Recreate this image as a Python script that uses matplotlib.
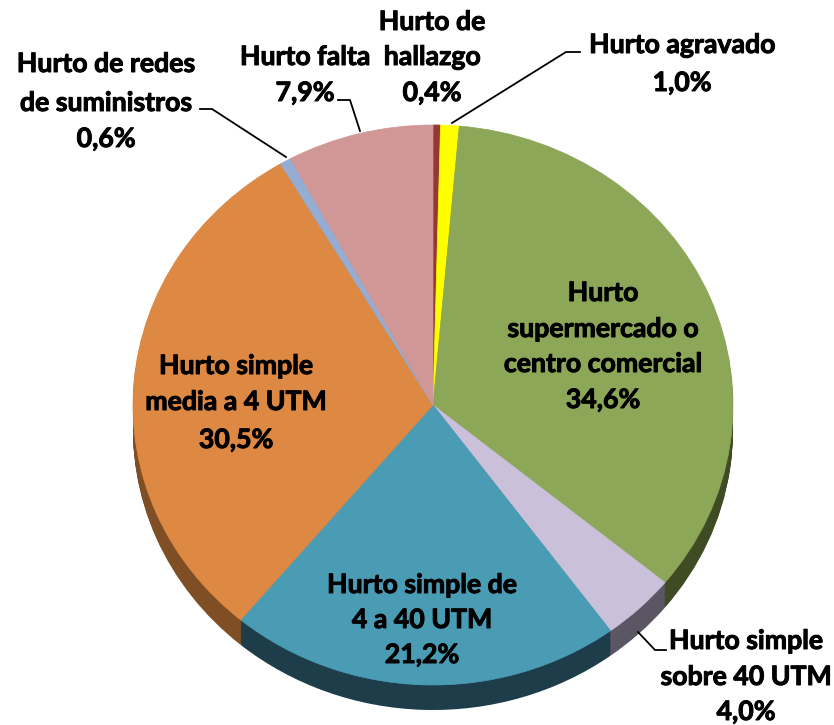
"""pie chart of hurto types, tilted look"""
import matplotlib
matplotlib.use('Agg')
import matplotlib.pyplot as plt
import matplotlib.patheffects as pe

W, H = 834, 725
CX, CY = 433, 405  # pie centre in pixels
RX, RY = 300, 280
DEPTH = 25

labels = ['Hurto de hallazgo', 'Hurto agravado', 'Hurto supermercado o centro comercial',
          'Hurto simple sobre 40 UTM', 'Hurto simple de 4 a 40 UTM',
          'Hurto simple media a 4 UTM', 'Hurto de redes de suministros', 'Hurto falta']
values = [0.4, 1.0, 34.6, 4.0, 21.2, 30.5, 0.6, 7.9]
colors = ['#953735', '#FFFF00', '#8CA757', '#CBC0DA', '#4A9CB5', '#DD8843', '#95ACD3', '#D19696']
wall_colors = ['#4F1D1C', '#7F7F00', '#3F4B23', '#5B5664', '#1C3D49', '#7F4E24', '#4C5A70', '#6F4F4F']

# text blocks: lines, centre x, y of each line (pixels)
text_blocks = [
    (['Hurto de', 'hallazgo', '0,4%'], 432, [22, 57, 93]),
    (['Hurto agravado', '1,0%'], 682, [45, 83]),
    (['Hurto falta', '7,9%'], 305, [57, 93]),
    (['Hurto de redes', 'de suministros', '0,6%'], 106, [64, 103, 139]),
    (['Hurto', 'supermercado o', 'centro comercial', '34,6%'], 603, [293, 329, 364, 400]),
    (['Hurto simple', 'media a 4 UTM', '30,5%'], 236, [366, 402, 440]),
    (['Hurto simple de', '4 a 40 UTM', '21,2%'], 422, [585, 620, 655]),
    (['Hurto simple', 'sobre 40 UTM', '4,0%'], 746, [641, 677, 712]),
]

# leader lines, pixels
leaders = [
    ([452, 566, 580], [123, 52, 52]),
    ([360, 350, 338], [131, 100, 100]),
    ([286, 212, 200], [157, 109, 109]),
    ([638, 655, 666], [632, 650, 650]),
]

def px(x):
    return (x - CX) / RX

def py(y):
    return (CY - y) / RY

fig = plt.figure(figsize=(W / 100, H / 100), dpi=100)
ax = fig.add_axes([0, 0, 1, 1])

# side wall: stack of dark pies going down
for d in range(DEPTH, 0, -1):
    ax.pie(values, colors=wall_colors, startangle=90, counterclock=False,
           center=(0, -d / RY), radius=1, normalize=True,
           wedgeprops={'linewidth': 0.5, 'edgecolor': 'none'})

wedges, _ = ax.pie(values, colors=colors, startangle=90, counterclock=False,
                   center=(0, 0), radius=1, normalize=True)
for w, c in zip(wedges, colors):
    w.set_edgecolor(c)
    w.set_linewidth(0.5)

ax.set_aspect('auto')
ax.set_xlim(px(0), px(W))
ax.set_ylim(py(H), py(0))
ax.axis('off')

for xs, ys in leaders:
    ax.plot([px(x) for x in xs], [py(y) for y in ys], color='black', lw=1.3, zorder=5,
            solid_joinstyle='miter')

# thin stroke because the original text is heavier than Lato Bold
heavy = [pe.withStroke(linewidth=0.7, foreground='black')]
for lines, x, ys in text_blocks:
    for line, y in zip(lines, ys):
        ax.text(px(x), py(y), line, ha='center', va='center', family='Lato',
                fontweight='bold', fontsize=19.2, color='black', zorder=6,
                path_effects=heavy)

fig.savefig('out.png', dpi=100)
